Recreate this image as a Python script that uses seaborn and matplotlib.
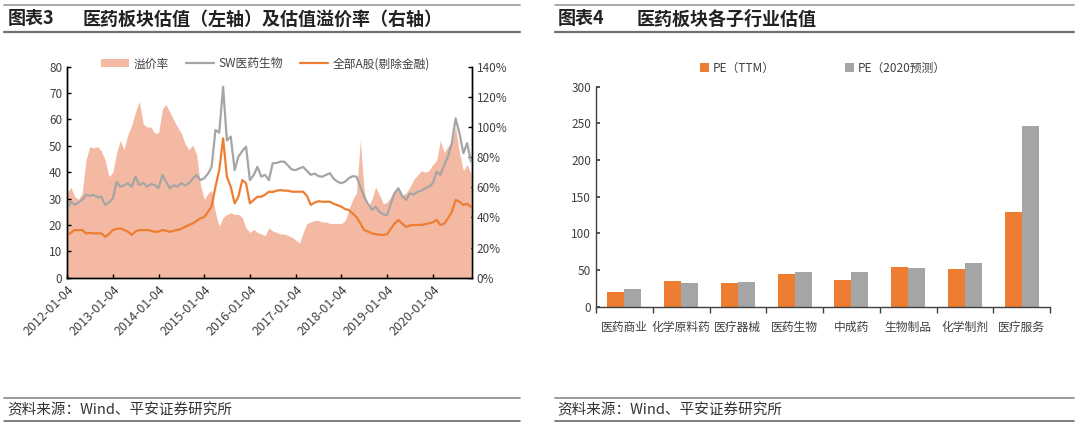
import numpy as np
import pandas as pd
import matplotlib
matplotlib.use("Agg")
import matplotlib.pyplot as plt
from matplotlib.lines import Line2D
from matplotlib.patches import Patch
from matplotlib.ticker import FuncFormatter
import seaborn as sns

# ---------------- data (left chart, monthly readings 2012-01 .. 2020-11) -------------
sw_pharma = [
    25.7, 28.8, 27.6, 28.5, 29.5, 31.4, 31.0, 31.4, 30.5, 30.7, 27.6, 28.5,
    30.0, 36.4, 34.5, 35.0, 35.8, 34.5, 38.3, 35.1, 36.0, 34.5, 35.5, 35.1,
    34.0, 39.0, 36.5, 33.9, 35.0, 34.5, 35.8, 35.0, 35.8, 37.5, 39.0, 37.0,
    37.7, 39.5, 42.0, 56.0, 55.0, 72.4, 52.0, 53.5, 40.8, 45.9, 48.0, 49.7,
    37.0, 39.0, 42.0, 38.3, 39.0, 37.0, 43.4, 43.5, 44.0, 44.0, 42.5, 41.0,
    40.8, 41.5, 42.0, 40.5, 39.0, 39.5, 38.5, 38.3, 39.0, 39.6, 37.5, 36.4,
    35.8, 36.5, 37.7, 38.5, 38.3, 34.5, 30.7, 28.0, 25.7, 26.9, 25.0, 24.0,
    23.8, 28.2, 32.0, 33.9, 31.0, 29.5, 32.0, 31.5, 32.6, 33.0, 33.9, 34.5,
    35.8, 40.2, 39.0, 42.7, 46.0, 51.0, 60.4, 54.7, 47.2, 51.0, 44.0]

all_a_ex_fin = [
    16.2, 17.0, 18.1, 18.0, 18.1, 16.8, 17.0, 16.8, 16.8, 16.8, 15.5, 16.5,
    18.1, 18.5, 18.7, 18.1, 17.5, 16.2, 17.5, 18.1, 18.0, 18.1, 17.8, 17.4,
    17.5, 18.1, 17.8, 17.4, 17.8, 18.1, 18.5, 19.3, 20.0, 20.6, 21.5, 22.5,
    23.0, 25.0, 27.0, 34.5, 40.8, 52.8, 38.3, 34.5, 28.2, 30.7, 37.0, 35.8,
    28.2, 29.5, 30.7, 30.7, 31.5, 32.6, 32.5, 33.0, 33.2, 33.0, 33.0, 32.6,
    32.6, 32.6, 32.6, 31.0, 27.6, 28.5, 29.0, 28.8, 28.8, 28.8, 28.0, 27.5,
    26.9, 26.0, 25.7, 24.4, 23.0, 20.6, 18.1, 17.5, 16.8, 16.5, 16.3, 16.2,
    16.5, 18.7, 20.5, 21.9, 20.5, 19.3, 19.8, 20.0, 20.0, 20.0, 20.3, 20.6,
    21.0, 21.9, 20.0, 20.5, 22.5, 25.0, 29.5, 28.8, 27.6, 28.0, 26.9]

premium_pct = [
    56, 60, 54, 52, 56, 78, 87, 86, 87, 84, 78, 67,
    70, 83, 91, 85, 95, 101, 110, 117, 102, 100, 100, 96,
    96, 112, 115, 110, 105, 100, 96, 89, 85, 88, 82, 62,
    52, 56, 58, 43, 34, 40, 42, 43, 42, 42, 40, 33,
    30, 32, 30, 29, 28, 33, 31, 30, 29, 29, 28, 27,
    25, 23, 30, 36, 37, 38, 38, 37, 37, 36, 36, 36,
    36, 38, 45, 52, 56, 91, 58, 47, 52, 60, 55, 49,
    50, 54, 58, 60, 55, 56, 60, 65, 68, 71, 70, 71,
    75, 78, 91, 83, 87, 90, 100, 83, 71, 75, 69]

date_ticks = ["2012-01-04", "2013-01-04", "2014-01-04", "2015-01-04", "2016-01-04",
              "2017-01-04", "2018-01-04", "2019-01-04", "2020-01-04"]

series_names = ["SW医药生物", "全部A股(剔除金融)"]
area_name = "溢价率"

# ---------------- data (right chart) -------------
categories = ["医药商业", "化学原料药", "医疗器械", "医药生物", "中成药", "生物制品", "化学制剂", "医疗服务"]
pe_ttm = [20, 35, 33, 44, 37, 54, 52, 129]
pe_2020 = [24, 33, 34, 47, 48, 53, 59, 246]
bar_series = ["PE（TTM）", "PE（2020预测）"]

# ---------------- style -------------
ORANGE = "#ED7D31"
GRAY = "#A5A5A5"
AREA = "#F4B9A2"
TXT = "#404040"

sns.set_theme(style="ticks")
plt.rcParams["font.family"] = ["Noto Sans CJK SC", "DejaVu Sans"]
plt.rcParams["axes.unicode_minus"] = False

W, H = 1080, 430
fig = plt.figure(figsize=(W / 100, H / 100), dpi=100)


def fx(px):
    return px / W


def fy(py):
    return 1 - py / H


# ---------------- left chart -------------
dates = pd.date_range("2012-01-01", periods=len(sw_pharma), freq="MS") + pd.Timedelta(days=3)
ax = fig.add_axes([fx(67), fy(277.7), fx(472) - fx(67), fy(66.7) - fy(277.7)])
ax2 = ax.twinx()

ax2.fill_between(dates, 0, premium_pct, color=AREA, lw=0)
ax2.set_ylim(0, 140)
ax2.set_yticks(np.arange(0, 141, 20))
ax2.yaxis.set_major_formatter(FuncFormatter(lambda v, p: f"{v:.0f}%"))

ax.set_zorder(ax2.get_zorder() + 1)
ax.patch.set_visible(False)

line_df = pd.DataFrame({
    "date": list(dates) * 2,
    "value": sw_pharma + all_a_ex_fin,
    "series": [series_names[0]] * len(dates) + [series_names[1]] * len(dates),
})
sns.lineplot(data=line_df, x="date", y="value", hue="series",
             palette={series_names[0]: GRAY, series_names[1]: ORANGE},
             linewidth=1.6, ax=ax, legend=False)
ax.set_ylim(0, 80)
ax.set_yticks(np.arange(0, 81, 10))
ax.set_xlim(dates[0], dates[-1] + pd.Timedelta(days=8))
tick_pos = pd.to_datetime(date_ticks)
ax.set_xticks(tick_pos)
ax.set_xticklabels(date_ticks, rotation=45, ha="right", rotation_mode="anchor")
ax.set_xlabel("")
ax.set_ylabel("")
ax2.set_ylabel("")

for a in (ax, ax2):
    a.tick_params(direction="in", length=3, labelsize=8.5, colors=TXT, width=1)
    a.tick_params(axis="both", which="both", color="black")
    for s in ("left", "right", "bottom"):
        a.spines[s].set_color("black")
        a.spines[s].set_linewidth(1)
    a.spines["top"].set_visible(False)
ax.spines["right"].set_visible(True)
ax.tick_params(axis="x", pad=4, labelsize=9)

handles = [Patch(facecolor=AREA, edgecolor="none", label=area_name),
           Line2D([], [], color=GRAY, lw=1.6, label=series_names[0]),
           Line2D([], [], color=ORANGE, lw=1.6, label=series_names[1])]
leg = ax.legend(handles=handles, loc="center", bbox_to_anchor=(0.49, 1.013), ncol=3,
                frameon=False, fontsize=8.5, handlelength=2.4, handletextpad=0.4,
                columnspacing=1.4, labelcolor=TXT)

# ---------------- right chart -------------
ax3 = fig.add_axes([fx(596), fy(306.7), fx(1050) - fx(596), fy(86.7) - fy(306.7)])
bar_df = pd.DataFrame({
    "cat": categories * 2,
    "val": pe_ttm + pe_2020,
    "kind": [bar_series[0]] * len(categories) + [bar_series[1]] * len(categories),
})
sns.barplot(data=bar_df, x="cat", y="val", hue="kind", palette=[ORANGE, GRAY],
            width=0.6, saturation=1, ax=ax3, edgecolor="none", linewidth=0)
ax3.set_xlim(-0.5, len(categories) - 0.5)
ax3.set_ylim(0, 300)
ax3.set_yticks(np.arange(0, 301, 50))
ax3.set_xlabel("")
ax3.set_ylabel("")
ax3.set_xticks(np.arange(-0.5, len(categories), 1), minor=True)
ax3.tick_params(axis="x", which="major", length=0, labelsize=8.5, colors=TXT, pad=10)
ax3.tick_params(axis="x", which="minor", length=4, direction="out", color="#404040")
ax3.tick_params(axis="y", direction="in", length=3, labelsize=8.5, colors=TXT, color="#404040")
for s in ("top", "right"):
    ax3.spines[s].set_visible(False)
for s in ("left", "bottom"):
    ax3.spines[s].set_color("#404040")
    ax3.spines[s].set_linewidth(1)
h3, l3 = ax3.get_legend_handles_labels()
ax3.legend(h3, l3, loc="center", bbox_to_anchor=(0.5, 1.085), ncol=2, frameon=False,
           fontsize=8.5, handlelength=0.75, handleheight=0.75, handletextpad=0.3,
           columnspacing=6.0, labelcolor=TXT)

# ---------------- titles, rules, footers -------------
def hline(x0, x1, y, color, lw):
    fig.add_artist(Line2D([fx(x0), fx(x1)], [fy(y), fy(y)], transform=fig.transFigure,
                          color=color, lw=lw))


for x0, x1 in ((4, 520), (555, 1074)):
    hline(x0, x1, 5, "#9A9A9A", 1.2)
    hline(x0, x1, 32, "#707070", 1.6)
    hline(x0, x1, 398, "#8A8A8A", 1.2)
    hline(x0, x1, 421, "#6A6A6A", 1.2)

fig.text(fx(8), fy(19), "图表3", fontsize=13, fontweight="bold", color="#222222", va="center")
fig.text(fx(83), fy(19), "医药板块估值（左轴）及估值溢价率（右轴）", fontsize=13,
         fontweight="bold", color="#222222", va="center")
fig.text(fx(558), fy(19), "图表4", fontsize=13, fontweight="bold", color="#222222", va="center")
fig.text(fx(637), fy(19), "医药板块各子行业估值", fontsize=13, fontweight="bold",
         color="#222222", va="center")

fig.text(fx(7), fy(410), "资料来源：Wind、平安证券研究所", fontsize=10.5, color="#333333",
         va="center", style="italic")
fig.text(fx(557), fy(410), "资料来源：Wind、平安证券研究所", fontsize=10.5, color="#333333",
         va="center", style="italic")

fig.savefig("out.png", dpi=100)
